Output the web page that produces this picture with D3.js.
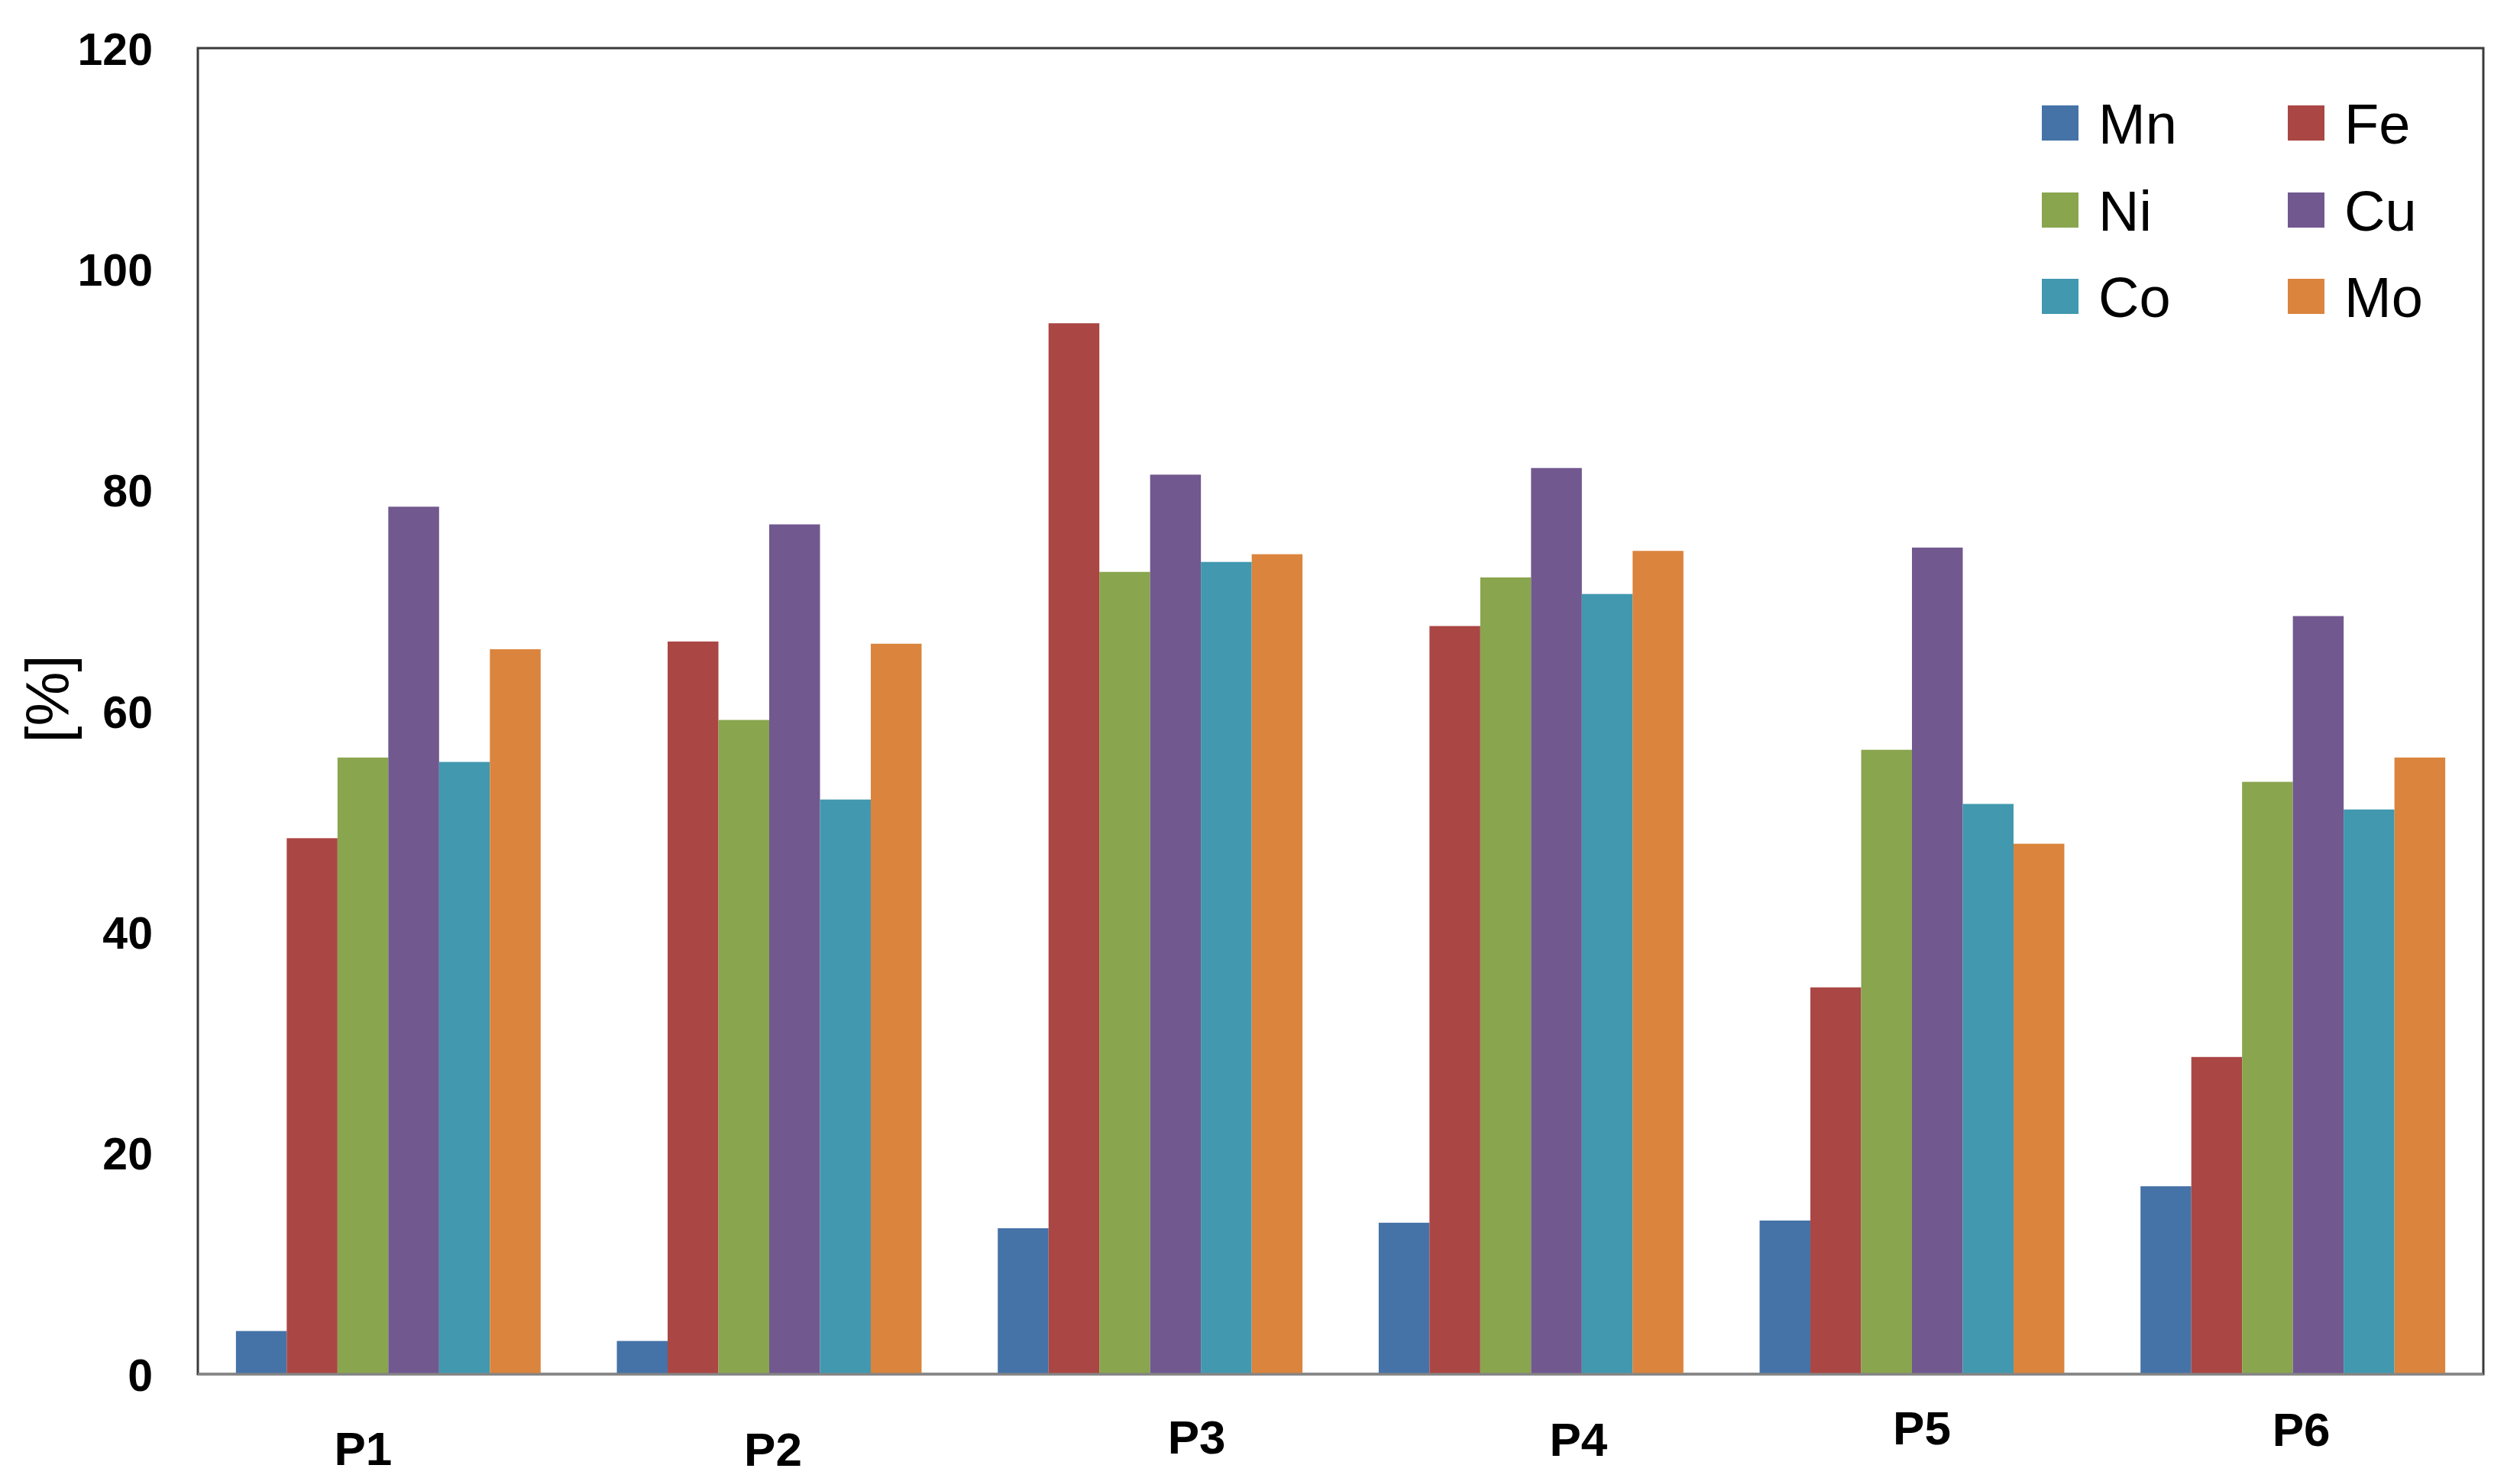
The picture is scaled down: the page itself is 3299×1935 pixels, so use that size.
<!DOCTYPE html>
<html>
<head>
<meta charset="utf-8">
<script src="https://cdn.jsdelivr.net/npm/d3@7"></script>
<style>
  html, body { margin: 0; padding: 0; background: #ffffff; }
  svg { display: block; }
</style>
</head>
<body>
<script>
// ---- data ----
const categories = ["P1", "P2", "P3", "P4", "P5", "P6"];
const seriesNames = ["Mn", "Fe", "Ni", "Cu", "Co", "Mo"];
const Mn = [3.9, 3.0, 13.2, 13.7, 13.9, 17.0];
const Fe = [48.5, 66.3, 95.1, 67.7, 35.0, 28.7];
const Ni = [55.8, 59.2, 72.6, 72.1, 56.5, 53.6];
const Cu = [78.5, 76.9, 81.4, 82.0, 74.8, 68.6];
const Co = [55.4, 52.0, 73.5, 70.6, 51.6, 51.1];
const Mo = [65.6, 66.1, 74.2, 74.5, 48.0, 55.8];
const yTicks = [0, 20, 40, 60, 80, 100, 120];
const yLabel = "[%]";

// ---- styling / layout ----
const seriesValues = { Mn, Fe, Ni, Cu, Co, Mo };
const colors = {
  Mn: "#4572A7", Fe: "#AA4643", Ni: "#89A54E",
  Cu: "#71588F", Co: "#4198AF", Mo: "#DB843D"
};
// hand-placed category labels in the original (nudges relative to group centre)
const labelDx = [-33, 5, 61, 62, 13, 11];
const labelBaseline = [1918, 1919, 1903, 1906, 1891, 1893];

const W = 3299, H = 1935;
const plot = { left: 259, right: 3251, top: 63, bottom: 1799 };

const svg = d3.select("body").append("svg")
  .attr("width", W).attr("height", H)
  .attr("viewBox", `0 0 ${W} ${H}`);

const x0 = d3.scaleBand()
  .domain(categories)
  .range([plot.left, plot.right])
  .paddingInner(0.2)
  .paddingOuter(0.1);

const x1 = d3.scaleBand()
  .domain(seriesNames)
  .range([0, x0.bandwidth()])
  .padding(0);

const y = d3.scaleLinear()
  .domain([0, 120])
  .range([plot.bottom, plot.top]);

// frame
svg.append("rect")
  .attr("x", plot.left).attr("y", plot.top)
  .attr("width", plot.right - plot.left)
  .attr("height", plot.bottom - plot.top)
  .attr("fill", "none")
  .attr("stroke", "#3a3a3a")
  .attr("stroke-width", 3);

// bars
const rows = categories.map((c, i) => ({
  cat: c,
  vals: seriesNames.map(s => ({ s, v: seriesValues[s][i] }))
}));

const groups = svg.append("g").selectAll("g")
  .data(rows)
  .join("g")
  .attr("transform", d => `translate(${x0(d.cat)},0)`);

groups.selectAll("rect")
  .data(d => d.vals)
  .join("rect")
  .attr("x", d => x1(d.s))
  .attr("y", d => y(d.v))
  .attr("width", x1.bandwidth())
  .attr("height", d => y(0) - y(d.v))
  .attr("fill", d => colors[d.s]);

// x axis line
svg.append("line")
  .attr("x1", plot.left).attr("x2", plot.right)
  .attr("y1", plot.bottom).attr("y2", plot.bottom)
  .attr("stroke", "#858585")
  .attr("stroke-width", 3);

// y axis (labels only)
const yAxis = d3.axisLeft(y)
  .tickValues(yTicks)
  .tickSize(0)
  .tickPadding(59)
  .tickFormat(d3.format("d"));

const gy = svg.append("g")
  .attr("transform", `translate(${plot.left},0)`)
  .call(yAxis);
gy.select(".domain").remove();
gy.selectAll("text")
  .attr("font-family", "'Liberation Sans', Arial, sans-serif")
  .attr("font-weight", "bold")
  .attr("font-size", 59)
  .attr("fill", "#000")
  .attr("dy", "0.36em");

// category labels
svg.append("g").selectAll("text")
  .data(categories)
  .join("text")
  .attr("x", (d, i) => x0(d) + x0.bandwidth() / 2 + labelDx[i])
  .attr("y", (d, i) => labelBaseline[i])
  .attr("text-anchor", "middle")
  .attr("font-family", "'Liberation Sans', Arial, sans-serif")
  .attr("font-weight", "bold")
  .attr("font-size", 62)
  .attr("fill", "#000")
  .text(d => d);

// y axis title
svg.append("text")
  .attr("transform", `translate(90, 915) rotate(-90)`)
  .attr("text-anchor", "middle")
  .attr("font-family", "'Liberation Sans', Arial, sans-serif")
  .attr("font-size", 80)
  .attr("fill", "#000")
  .text(yLabel);

// legend: 2 columns x 3 rows
const legendCols = [2673, 2995];
const legendRows = [161, 275, 388];
const legend = svg.append("g").selectAll("g")
  .data(seriesNames)
  .join("g")
  .attr("transform", (d, i) => `translate(${legendCols[i % 2]},${legendRows[Math.floor(i / 2)]})`);

legend.append("rect")
  .attr("x", 0).attr("y", -23)
  .attr("width", 48).attr("height", 46)
  .attr("fill", d => colors[d]);

legend.append("text")
  .attr("x", 74).attr("y", 27)
  .attr("font-family", "'Liberation Sans', Arial, sans-serif")
  .attr("font-size", 74)
  .attr("fill", "#000")
  .text(d => d);
</script>
</body>
</html>
